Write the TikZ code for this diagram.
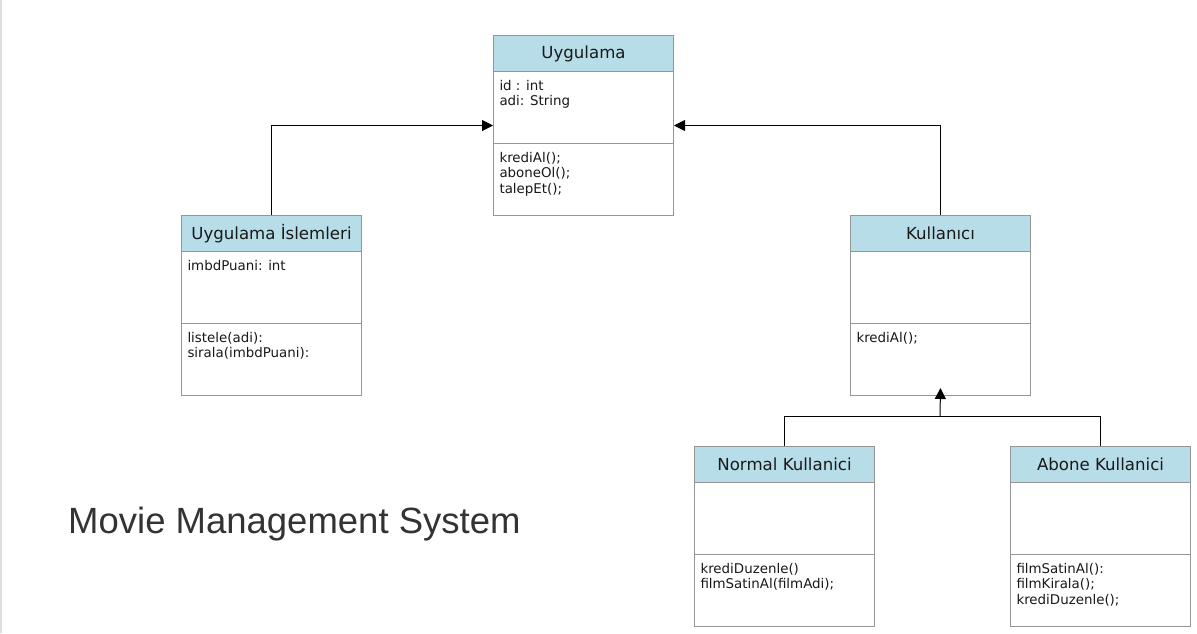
\documentclass[tikz,border=0pt]{standalone}
\usepackage{fontspec}
\setmainfont{DejaVu Sans}
\newfontfamily\titlefont{Liberation Sans}
\usepackage{tikz}
\usetikzlibrary{shapes.multipart,arrows.meta}

\definecolor{headblue}{RGB}{183,221,232}
\definecolor{boxgray}{RGB}{150,150,150}
\definecolor{titlegray}{RGB}{51,51,51}
\definecolor{bargray}{RGB}{222,222,222}

% class compartments: fixed heights like the reference
\newcommand{\clshead}[1]{\parbox[b][35pt][c]{168pt}{\centering\fontsize{16.6}{19}\selectfont #1}}
\newcommand{\clsbody}[1]{\parbox[b][71pt][t]{168pt}{\fontsize{13.4}{15.5}\selectfont\vspace{8pt}#1}}

\tikzset{
  umlclass/.style={rectangle split, rectangle split parts=3, draw=boxgray, line width=1pt,
    rectangle split part fill={headblue,white}, inner xsep=6pt, inner ysep=0pt,
    anchor=north west, text=black!90},
  link/.style={draw=black, line width=1pt},
  inherit/.style={link, -{Triangle[length=11pt,width=11pt]}}
}

\begin{document}
\begin{tikzpicture}[x=1pt, y=-1pt]
    \useasboundingbox (0,0) rectangle (1197,633);
    \fill[white] (0,0) rectangle (1197,633);
    \fill[bargray] (0,0) rectangle (2,633);

    % the classes
    \node[umlclass] (app) at (493,35) {\clshead{Uygulama}
      \nodepart{two}\clsbody{id : int\\adi: String}
      \nodepart{three}\clsbody{krediAl();\\aboneOl();\\talepEt();}};
    \node[umlclass] (islem) at (181,215) {\clshead{Uygulama İslemleri}
      \nodepart{two}\clsbody{imbdPuani: int}
      \nodepart{three}\clsbody{listele(adi):\\sirala(imbdPuani):}};
    \node[umlclass] (kul) at (850,215) {\clshead{Kullanıcı}
      \nodepart{two}\clsbody{}
      \nodepart{three}\clsbody{krediAl();}};
    \node[umlclass] (normal) at (694,446) {\clshead{Normal Kullanici}
      \nodepart{two}\clsbody{}
      \nodepart{three}\clsbody{krediDuzenle()\\filmSatinAl(filmAdi);}};
    \node[umlclass] (abone) at (1010,446) {\clshead{Abone Kullanici}
      \nodepart{two}\clsbody{}
      \nodepart{three}\clsbody{filmSatinAl():\\filmKirala();\\krediDuzenle();}};

    \node[anchor=base west, inner sep=0pt, text=titlegray,
      font=\titlefont\fontsize{36.5}{42}\selectfont] (title) at (68,533) {Movie Management System};

    % inheritance lines
    \draw[inherit] (islem.north) |- (app.west);
    \draw[inherit] (kul.north) |- (app.east);

    \coordinate (join) at (940,416);
    \draw[link] (normal.north) |- (join);
    \draw[link] (abone.north) |- (join);
    \draw[inherit] (join) -- ([yshift=8pt]kul.south);
\end{tikzpicture}
\end{document}
